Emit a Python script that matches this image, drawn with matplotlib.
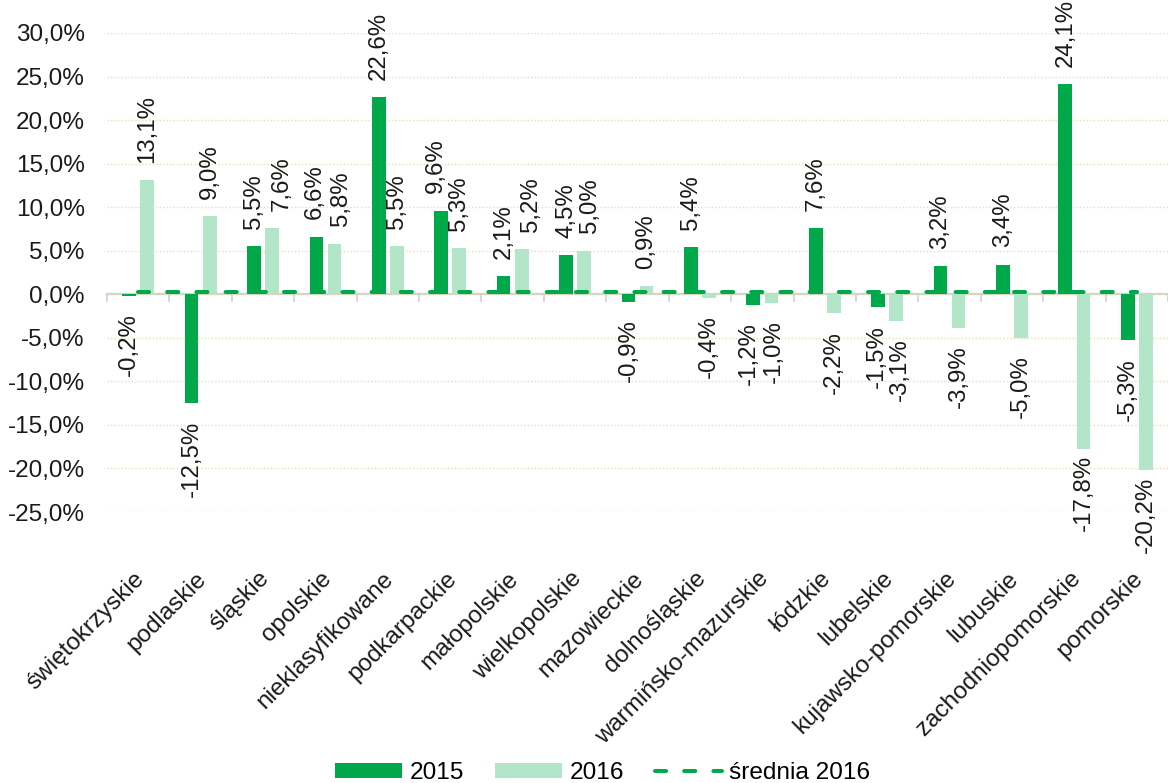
"""
Dynamika 2015/2016 wg województw - wykres słupkowy ze średnią
"""

import numpy as np
import matplotlib
matplotlib.use("Agg")
import matplotlib.pyplot as plt
from matplotlib.ticker import FuncFormatter
from matplotlib.transforms import ScaledTranslation

#--------------------------------------------------------------

categories = ["świętokrzyskie", "podlaskie", "śląskie", "opolskie",
              "nieklasyfikowane", "podkarpackie", "małopolskie",
              "wielkopolskie", "mazowieckie", "dolnośląskie",
              "warmińsko-mazurskie", "łódzkie", "lubelskie",
              "kujawsko-pomorskie", "lubuskie", "zachodniopomorskie",
              "pomorskie"]
values_2015 = [-0.2, -12.5, 5.5, 6.6, 22.6, 9.6, 2.1, 4.5, -0.9, 5.4,
               -1.2, 7.6, -1.5, 3.2, 3.4, 24.1, -5.3]
values_2016 = [13.1, 9.0, 7.6, 5.8, 5.5, 5.3, 5.2, 5.0, 0.9, -0.4,
               -1.0, -2.2, -3.1, -3.9, -5.0, -17.8, -20.2]
srednia_2016 = 0.3
series_labels = ["2015", "2016", "średnia 2016"]

# hand-moved data labels (series, category index) -> (dx, gap) in points
label_moves = {
    (0, 3): (-1, None), (1, 2): (7, None), (1, 3): (4.5, None),
    (0, 5): (-3.5, None), (1, 6): (6.5, None), (1, 7): (4.5, None),
    (0, 10): (-3, None), (1, 10): (2, None), (0, 12): (-1, None),
    (1, 12): (2.5, None), (1, 15): (0, 4), (1, 16): (0, 4.5),
}

#--------------------------------------------------------------

DARK = "#00a84a"
LIGHT = "#b3e5c8"
GRID = "#dfe4b0"
FS = 17.3

plt.rcParams['font.family'] = ['Liberation Sans', 'DejaVu Sans']


def pct(value):
    """ format value as polish percentage """
    return f"{value:.1f}%".replace(".", ",")


def main():
    """ draw the chart """
    fig = plt.figure(figsize=(11.68, 7.83), dpi=100)
    ax = fig.add_axes([107/1168, 1 - 512/783, 1061/1168, 479/783])

    x = np.arange(len(categories))
    width = 0.22
    shift = 0.145

    bars_15 = ax.bar(x - shift, values_2015, width, color=DARK,
                     label=series_labels[0], zorder=2)
    bars_16 = ax.bar(x + shift, values_2016, width, color=LIGHT,
                     label=series_labels[1], zorder=2)
    line, = ax.plot(x, [srednia_2016] * len(x), color=DARK, lw=2.9,
                    linestyle=(0, (2.75, 4.5)), dash_capstyle='round',
                    label=series_labels[2], zorder=3)

    for s, (bars, vals) in enumerate(((bars_15, values_2015),
                                      (bars_16, values_2016))):
        for i, (bar, val) in enumerate(zip(bars, vals)):
            cx = bar.get_x() + bar.get_width() / 2
            dx, gap = label_moves.get((s, i), (0, None))
            gap = 12.5 if gap is None else gap
            off = gap if val >= 0 else -gap
            ax.annotate(pct(val), (cx, val), xytext=(dx, off),
                        textcoords='offset points', rotation=90,
                        ha='center', va='bottom' if val >= 0 else 'top',
                        fontsize=FS, color='#1a1a1a', zorder=4)

    ax.set_xlim(-0.5, len(categories) - 0.5)
    ax.set_ylim(-25, 30)
    ax.set_yticks(np.arange(-25, 31, 5))
    ax.yaxis.set_major_formatter(FuncFormatter(lambda v, _: pct(v)))
    ax.tick_params(axis='y', length=0, pad=16, labelsize=17.5,
                   labelcolor='#1a1a1a')
    ax.grid(axis='y', color=GRID, linestyle=(0, (1, 1.5)), lw=1, zorder=0)

    ax.set_xticks(x)
    ax.set_xticklabels(categories, rotation=45, ha='right',
                       rotation_mode='anchor', fontsize=17.5,
                       color='#1a1a1a')
    ax.tick_params(axis='x', length=0, pad=40)
    nudge = ScaledTranslation(-5 / 100, 0, fig.dpi_scale_trans)
    for lab in ax.get_xticklabels():
        lab.set_transform(lab.get_transform() + nudge)

    for spine in ax.spines.values():
        spine.set_visible(False)

    # zero axis with category separators
    zero = ax.secondary_xaxis(0, transform=ax.transData)
    zero.set_xticks(np.arange(-0.5, len(categories), 1.0))
    zero.tick_params(axis='x', length=6, width=1.2, color='#d0d0d0',
                     labelbottom=False)
    zero.spines['bottom'].set_color('#d0d0d0')
    zero.spines['bottom'].set_linewidth(1.6)
    zero.set_zorder(1)

    fig.legend(handles=[bars_15, bars_16, line], labels=series_labels,
               loc='center', bbox_to_anchor=(0.516, 0.013), ncol=3,
               frameon=False, fontsize=17.6, handlelength=2.75,
               handleheight=0.55, handletextpad=0.3, columnspacing=1.27)

    fig.savefig("out.png", dpi=100)


#--------------------------------------------------------------

if __name__ == "__main__":
    main()
